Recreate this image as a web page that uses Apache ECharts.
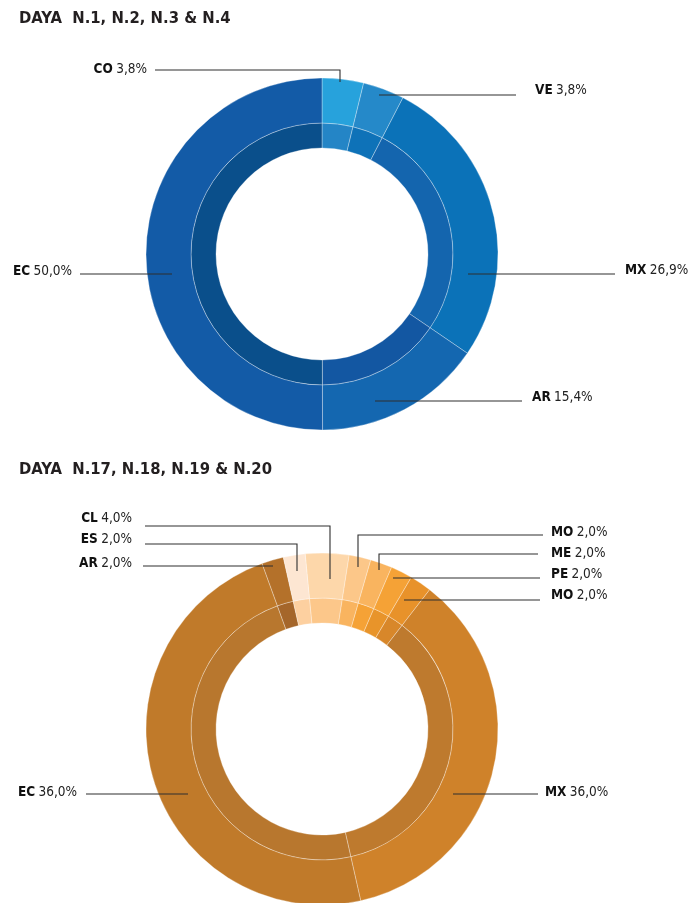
<!DOCTYPE html>
<html><head><meta charset="utf-8">
<script src="https://cdn.jsdelivr.net/npm/echarts@6/dist/echarts.min.js"></script>
<style>html,body{margin:0;padding:0;background:#fff}#c{width:691px;height:903px}</style>
</head><body><div id="c"></div>
<script>
// ---- data ----
const titleA = 'DAYA  N.1, N.2, N.3 & N.4';
const catsA = ['CO', 'VE', 'MX', 'AR', 'EC'];
const valsA = [3.8, 3.8, 26.9, 15.4, 50.0];          // slice sizes (%)
const printedA = [3.8, 3.8, 26.9, 15.4, 50.0];       // percentages printed on labels

const titleB = 'DAYA  N.17, N.18, N.19 & N.20';
const catsB = ['CL', 'MO', 'ME', 'PE', 'MO', 'MX', 'EC', 'AR', 'ES'];
const valsB = [4.0, 2.0, 2.0, 2.0, 2.0, 36.0, 48.0, 2.0, 2.0];     // slice sizes as drawn (%)
const printedB = [4.0, 2.0, 2.0, 2.0, 2.0, 36.0, 36.0, 2.0, 2.0];  // percentages printed on labels

// ---- styles ----
const outerColA = ['#27a2dc', '#2589c9', '#0b72b8', '#1467b0', '#135ba7'];
const innerColA = ['#2485c6', '#0e72b8', '#1465ae', '#1357a2', '#0a4f8b'];
const outerColB = ['#fdd7aa', '#fcc789', '#f9b45f', '#f5a236', '#e8922a', '#cf822a', '#c07a2a', '#b4712a', '#fde6d2'];
const innerColB = ['#fcc78a', '#f9b45f', '#f5a236', '#e8942a', '#d8872a', '#be7a2e', '#b8772e', '#a5662a', '#fdd0a0'];

const FONT = "'Liberation Sans Narrow', 'DejaVu Sans Condensed', 'Open Sans', sans-serif";
const lineColor = '#2e2e2e';

// label placement (layout only)
const layoutA = [
  {x: 147, y: 69, align: 'right', line: [[340, 82], [340, 70], [155, 70]]},
  {x: 535, y: 90, align: 'left', line: [[379, 95], [516, 95]]},
  {x: 625, y: 270, align: 'left', line: [[468, 274], [615, 274]]},
  {x: 532, y: 397, align: 'left', line: [[375, 401], [522, 401]]},
  {x: 72, y: 271, align: 'right', line: [[172, 274], [80, 274]]}
];
const layoutB = [
  {x: 132, y: 518, align: 'right', line: [[330, 579], [330, 526], [145, 526]]},
  {x: 551, y: 532, align: 'left', line: [[358, 567], [358, 535], [543, 535]]},
  {x: 551, y: 553, align: 'left', line: [[379, 570], [379, 554], [538, 554]]},
  {x: 551, y: 574, align: 'left', line: [[393, 578], [540, 578]]},
  {x: 551, y: 595, align: 'left', line: [[404, 600], [540, 600]]},
  {x: 545, y: 792, align: 'left', line: [[453, 794], [538, 794]]},
  {x: 77, y: 792, align: 'right', line: [[188, 794], [86, 794]]},
  {x: 132, y: 563, align: 'right', line: [[273, 566], [143, 566]]},
  {x: 132, y: 539, align: 'right', line: [[297, 571], [297, 544], [145, 544]]}
];

function fmt(v) { return v.toFixed(1).replace('.', ','); }
function mkData(cats, vals, cols) {
  return cats.map((c, i) => ({name: c, value: vals[i], itemStyle: {color: cols[i]}}));
}
function mkLabelData(cats, vals, printed) {
  return cats.map((c, i) => ({name: c, value: vals[i], printed: printed[i]}));
}
function mkLayout(table) {
  return function (p) {
    const L = table[p.dataIndex];
    return {x: L.x, y: L.y, align: L.align, verticalAlign: 'middle', labelLinePoints: L.line};
  };
}
const startA = 90;
const startB = 95.5;

const border = {borderColor: 'rgba(255,255,255,0.45)', borderWidth: 0.7};

function ring(center, radius, cats, vals, cols, start, z) {
  return {
    type: 'pie', center: center, radius: radius, startAngle: start, clockwise: true,
    silent: true, animation: false, itemStyle: border,
    label: {show: false}, labelLine: {show: false},
    data: mkData(cats, vals, cols), z: z
  };
}
function labels(center, cats, vals, printed, layout, start) {
  return {
    type: 'pie', center: center, radius: [131, 176], startAngle: start, clockwise: true,
    silent: true, animation: false, avoidLabelOverlap: false,
    itemStyle: {color: 'rgba(0,0,0,0)', borderWidth: 0},
    label: {
      show: true, position: 'outside',
      formatter: p => '{b|' + p.name + '} {v|' + fmt(p.data.printed) + '%}',
      rich: {
        b: {fontFamily: FONT, fontWeight: 'bold', fontSize: 13.5, color: '#111'},
        v: {fontFamily: FONT, fontSize: 13.5, color: '#222'}
      }
    },
    labelLine: {show: true, lineStyle: {color: lineColor, width: 1.1}},
    labelLayout: mkLayout(layout),
    data: mkLabelData(cats, vals, printed), z: 5
  };
}

const chart = echarts.init(document.getElementById('c'), null, {renderer: 'canvas'});
chart.setOption({
  backgroundColor: '#fff',
  animation: false,
  title: [
    {text: titleA, left: 14, top: 5, textStyle: {fontFamily: FONT, fontWeight: 'bold', fontSize: 16.5, color: '#231f20'}},
    {text: titleB, left: 14, top: 456, textStyle: {fontFamily: FONT, fontWeight: 'bold', fontSize: 16.5, color: '#231f20'}}
  ],
  series: [
    ring([322, 254], [131, 176], catsA, valsA, outerColA, startA, 2),
    ring([322, 254], [106, 131], catsA, valsA, innerColA, startA, 1),
    labels([322, 254], catsA, valsA, printedA, layoutA, startA),
    ring([322, 729], [131, 176], catsB, valsB, outerColB, startB, 2),
    ring([322, 729], [106, 131], catsB, valsB, innerColB, startB, 1),
    labels([322, 729], catsB, valsB, printedB, layoutB, startB)
  ]
});
</script>
</body></html>
